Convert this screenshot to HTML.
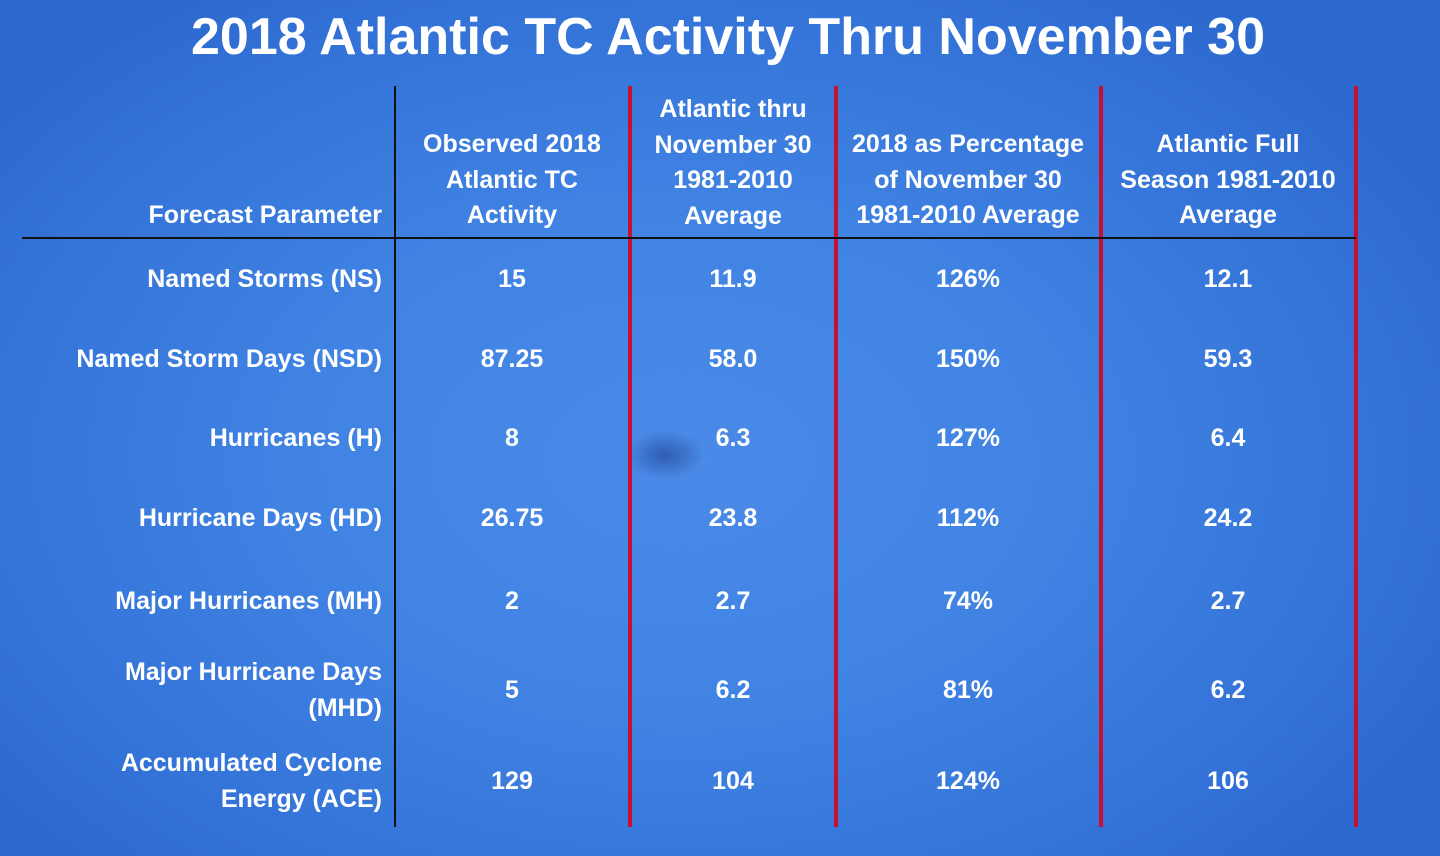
<!DOCTYPE html>
<html><head><meta charset="utf-8"><style>
html,body{margin:0;padding:0}
body{width:1440px;height:856px;position:relative;overflow:hidden;
background:radial-gradient(ellipse 850px 560px at 680px 460px,#4a8ae8 0%,#4083e3 45%,#3676da 75%,#2d6ad0 100%);
font-family:"Liberation Sans",sans-serif;font-weight:bold;color:#fff}
.t{position:absolute;white-space:nowrap}
.title{left:0;width:1456px;text-align:center;top:7px;font-size:52px;line-height:60px}
.h{font-size:25px;line-height:35.5px;text-align:center;top:92px}
.c{font-size:25px;line-height:36px;text-align:center}
.l{font-size:25px;line-height:36px;text-align:right;right:1058px}
.v{position:absolute;top:86px;height:741px;width:4px;background:#c8102e}
.eye{position:absolute;left:625px;top:430px;width:80px;height:50px;border-radius:50%;background:radial-gradient(ellipse,rgba(20,50,120,.5),rgba(20,50,120,0) 70%)}
</style></head><body>
<div class="eye"></div>
<div class="t title">2018 Atlantic TC Activity Thru November 30</div>
<div style="position:absolute;left:394px;top:86px;width:2px;height:741px;background:#111"></div>
<div class="v" style="left:628px"></div>
<div class="v" style="left:834px"></div>
<div class="v" style="left:1099px"></div>
<div class="v" style="left:1354px"></div>
<div style="position:absolute;left:22px;top:237px;width:1334px;height:2px;background:#111"></div>

<div class="t h" style="right:1058px;text-align:right;top:198px">Forecast Parameter</div>
<div class="t h" style="left:402px;width:220px;top:127px">Observed 2018<br>Atlantic TC<br>Activity</div>
<div class="t h" style="left:633px;width:200px">Atlantic thru<br>November 30<br>1981-2010<br>Average</div>
<div class="t h" style="left:840px;width:256px;top:127px">2018 as Percentage<br>of November 30<br>1981-2010 Average</div>
<div class="t h" style="left:1104px;width:248px;top:127px">Atlantic Full<br>Season 1981-2010<br>Average</div>

<div class="t l" style="top:261px">Named Storms (NS)</div>
<div class="t l" style="top:341px">Named Storm Days (NSD)</div>
<div class="t l" style="top:420px">Hurricanes (H)</div>
<div class="t l" style="top:500px">Hurricane Days (HD)</div>
<div class="t l" style="top:583px">Major Hurricanes (MH)</div>
<div class="t l" style="top:654px">Major Hurricane Days<br>(MHD)</div>
<div class="t l" style="top:745px">Accumulated Cyclone<br>Energy (ACE)</div>

<div class="t c" style="left:412px;width:200px;top:261px">15</div>
<div class="t c" style="left:412px;width:200px;top:341px">87.25</div>
<div class="t c" style="left:412px;width:200px;top:420px">8</div>
<div class="t c" style="left:412px;width:200px;top:500px">26.75</div>
<div class="t c" style="left:412px;width:200px;top:583px">2</div>
<div class="t c" style="left:412px;width:200px;top:672px">5</div>
<div class="t c" style="left:412px;width:200px;top:763px">129</div>

<div class="t c" style="left:633px;width:200px;top:261px">11.9</div>
<div class="t c" style="left:633px;width:200px;top:341px">58.0</div>
<div class="t c" style="left:633px;width:200px;top:420px">6.3</div>
<div class="t c" style="left:633px;width:200px;top:500px">23.8</div>
<div class="t c" style="left:633px;width:200px;top:583px">2.7</div>
<div class="t c" style="left:633px;width:200px;top:672px">6.2</div>
<div class="t c" style="left:633px;width:200px;top:763px">104</div>

<div class="t c" style="left:868px;width:200px;top:261px">126%</div>
<div class="t c" style="left:868px;width:200px;top:341px">150%</div>
<div class="t c" style="left:868px;width:200px;top:420px">127%</div>
<div class="t c" style="left:868px;width:200px;top:500px">112%</div>
<div class="t c" style="left:868px;width:200px;top:583px">74%</div>
<div class="t c" style="left:868px;width:200px;top:672px">81%</div>
<div class="t c" style="left:868px;width:200px;top:763px">124%</div>

<div class="t c" style="left:1128px;width:200px;top:261px">12.1</div>
<div class="t c" style="left:1128px;width:200px;top:341px">59.3</div>
<div class="t c" style="left:1128px;width:200px;top:420px">6.4</div>
<div class="t c" style="left:1128px;width:200px;top:500px">24.2</div>
<div class="t c" style="left:1128px;width:200px;top:583px">2.7</div>
<div class="t c" style="left:1128px;width:200px;top:672px">6.2</div>
<div class="t c" style="left:1128px;width:200px;top:763px">106</div>
</body></html>
